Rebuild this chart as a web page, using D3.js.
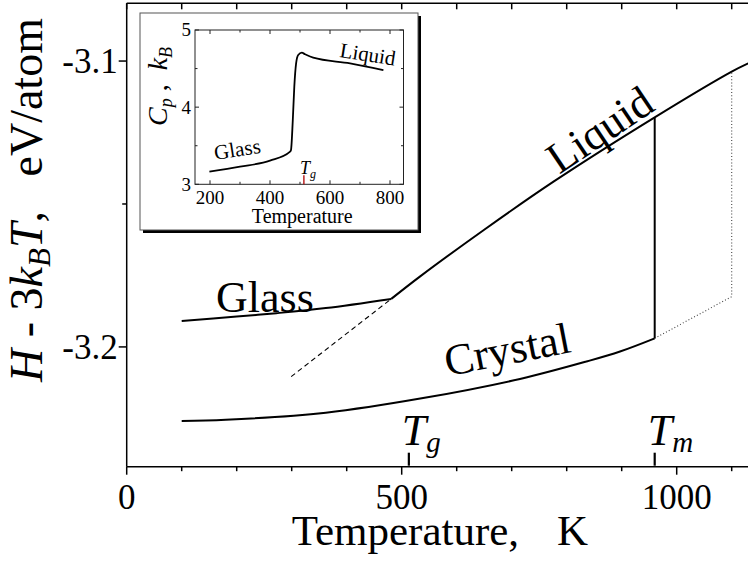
<!DOCTYPE html>
<html>
<head>
<meta charset="utf-8">
<script src="https://cdn.jsdelivr.net/npm/d3@7"></script>
<style>
  html, body { margin: 0; padding: 0; background: #fff; }
  svg { display: block; font-family: "Liberation Serif", "Times New Roman", serif; }
  text { white-space: pre; fill: #000; }
</style>
</head>
<body>
<svg id="chart" width="748" height="561"></svg>
<script>
// ---- main panel: enthalpy (H - 3kBT, eV/atom) versus temperature (K) ----
const glassT  = [100, 200, 272, 362, 481];
const glassH  = [-3.1909, -3.1894, -3.1882, -3.1864, -3.1832];

const liquidT = [481, 533, 650, 776, 960, 1100, 1130];
const liquidH = [-3.1832, -3.1754, -3.1590, -3.1422, -3.1197, -3.1037, -3.1008];

// straight extrapolation of the liquid branch below Tg
const supercooledT = [299, 481];
const supercooledH = [-3.2104, -3.1832];

const crystalT = [100, 180, 362, 539, 715, 836, 897, 960];
const crystalH = [-3.2259, -3.2255, -3.2230, -3.2179, -3.2112, -3.2051, -3.2016, -3.1970];

// superheated crystal, then its jump to the liquid at 1100 K
const superheatT = [960, 1100, 1100];
const superheatH = [-3.1970, -3.1824, -3.1037];

const Tg = 513;
const Tm = 960;

const xTicksMajor = [0, 500, 1000];
const xTicksMinor = [100, 200, 300, 400, 600, 700, 800, 900, 1100];
const yTicksMajor = [-3.2, -3.1];
const yTicksMinor = [-3.15];

// ---- inset: heat capacity Cp (kB) versus temperature ----
const cpT = [198, 300, 400, 467, 470, 476, 481, 487, 494, 506, 517, 544, 667, 778];
const cpV = [3.163, 3.228, 3.306, 3.423, 3.445, 3.833, 4.265, 4.568, 4.676, 4.706, 4.685, 4.641, 4.568, 4.481];
const insetXTicksMajor = [200, 400, 600, 800];
const insetXTicksMinor = [300, 500, 700];
const insetYTicksMajor = [3, 4, 5];
const insetYTicksMinor = [3.5, 4.5];

const svg = d3.select("#chart");

const x = d3.scaleLinear().domain([0, 1150]).range([126.7, 759.2]);
const y = d3.scaleLinear().domain([-3.2419, -3.0798]).range([466.7, 3.3]);
const xLeft = x(0), xRight = x(1150), yBottom = y(-3.2419), yTop = y(-3.0798);

const zip = (a, b) => a.map((v, i) => [v, b[i]]);
const line = d3.line().x(d => x(d[0])).y(d => y(d[1]));
const smooth = d3.line().x(d => x(d[0])).y(d => y(d[1])).curve(d3.curveCatmullRom.alpha(0.5));
// plain hyphen-minus for negative tick values
const fmtY = v => d3.format(".1f")(v).replace("\u2212", "-");

// frame
const axisStroke = "#000";
svg.append("line").attr("x1", xLeft).attr("x2", xLeft).attr("y1", yTop).attr("y2", yBottom)
  .attr("stroke", axisStroke).attr("stroke-width", 1.5);
svg.append("line").attr("x1", xLeft).attr("x2", xRight).attr("y1", yBottom).attr("y2", yBottom)
  .attr("stroke", axisStroke).attr("stroke-width", 1.5);
svg.append("line").attr("x1", xLeft).attr("x2", xRight).attr("y1", yTop).attr("y2", yTop)
  .attr("stroke", axisStroke).attr("stroke-width", 1.5);

// bottom axis ticks (outward) and labels
const xAll = xTicksMajor.concat(xTicksMinor);
svg.selectAll(".xt").data(xAll).enter().append("line")
  .attr("x1", d => x(d)).attr("x2", d => x(d))
  .attr("y1", yBottom).attr("y2", d => yBottom + (xTicksMajor.includes(d) ? 8 : 4.5))
  .attr("stroke", axisStroke).attr("stroke-width", 1.5);
// top axis ticks (inward)
svg.selectAll(".xtt").data(xAll).enter().append("line")
  .attr("x1", d => x(d)).attr("x2", d => x(d))
  .attr("y1", yTop).attr("y2", yTop + 6)
  .attr("stroke", axisStroke).attr("stroke-width", 1.5);
svg.selectAll(".xl").data(xTicksMajor).enter().append("text")
  .attr("x", d => x(d)).attr("y", 509)
  .attr("text-anchor", "middle").attr("font-size", 35)
  .text(d => d3.format("d")(d));

// left axis ticks (outward) and labels
svg.selectAll(".yt").data(yTicksMajor.concat(yTicksMinor)).enter().append("line")
  .attr("x1", xLeft).attr("x2", d => xLeft - (yTicksMajor.includes(d) ? 8 : 4.5))
  .attr("y1", d => y(d)).attr("y2", d => y(d))
  .attr("stroke", axisStroke).attr("stroke-width", 1.5);
svg.selectAll(".yl").data(yTicksMajor).enter().append("text")
  .attr("x", xLeft - 9).attr("y", d => y(d)).attr("dy", "0.34em")
  .attr("text-anchor", "end").attr("font-size", 35)
  .text(fmtY);

// axis titles
const xt = svg.append("text").attr("x", 291.7).attr("y", 545).attr("font-size", 43);
xt.append("tspan").text("Temperature,");
xt.append("tspan").attr("dx", 38).text("K");

const yt = svg.append("text").attr("transform", "translate(41.7,382) rotate(-90)").attr("font-size", 46);
yt.append("tspan").attr("font-style", "italic").text("H");
yt.append("tspan").text(" - 3");
yt.append("tspan").attr("font-style", "italic").text("k");
yt.append("tspan").attr("font-style", "italic").attr("font-size", 31).attr("dy", 8).text("B");
yt.append("tspan").attr("font-style", "italic").attr("dy", -8).text("T");
yt.append("tspan").text(",   eV/atom");

// curves
svg.append("path").attr("d", smooth(zip(glassT, glassH)))
  .attr("fill", "none").attr("stroke", "#000").attr("stroke-width", 2);
svg.append("path").attr("d", smooth(zip(liquidT, liquidH)))
  .attr("fill", "none").attr("stroke", "#000").attr("stroke-width", 2);
svg.append("path").attr("d", smooth(zip(crystalT, crystalH)))
  .attr("fill", "none").attr("stroke", "#000").attr("stroke-width", 2);
svg.append("path").attr("d", line(zip(supercooledT, supercooledH)))
  .attr("fill", "none").attr("stroke", "#000").attr("stroke-width", 1.1)
  .attr("stroke-dasharray", "5,3.5");
svg.append("path").attr("d", line(zip(superheatT, superheatH)))
  .attr("fill", "none").attr("stroke", "#444").attr("stroke-width", 1.1)
  .attr("stroke-dasharray", "1,2.2");
// melting jump at Tm
svg.append("line")
  .attr("x1", x(Tm)).attr("x2", x(Tm))
  .attr("y1", y(crystalH[crystalH.length - 1])).attr("y2", y(liquidH[4]))
  .attr("stroke", "#000").attr("stroke-width", 2);

// Tg / Tm markers on the temperature axis
[[Tg, "g"], [Tm, "m"]].forEach(([t, sub]) => {
  svg.append("line").attr("x1", x(t)).attr("x2", x(t))
    .attr("y1", yBottom - 14).attr("y2", yBottom - 1)
    .attr("stroke", "#000").attr("stroke-width", 2.2);
  const lab = svg.append("text").attr("x", x(t) - 7).attr("y", 445).attr("font-size", 44);
  lab.append("tspan").attr("font-style", "italic").text("T");
  lab.append("tspan").attr("font-style", "italic").attr("font-size", 29).attr("dy", 7).text(sub);
});

// curve labels
svg.append("text").attr("x", 216).attr("y", 311.7).attr("font-size", 44).text("Glass");
svg.append("text").attr("transform", "translate(608,142) rotate(-34)")
  .attr("text-anchor", "middle").attr("font-size", 44).text("Liquid");
svg.append("text").attr("transform", "translate(510,364) rotate(-11)")
  .attr("text-anchor", "middle").attr("font-size", 44).text("Crystal");

// ---- inset ----
const box = { x: 140, y: 13, w: 278, h: 217 };
svg.append("rect").attr("x", box.x + 3).attr("y", box.y + 3).attr("width", box.w).attr("height", box.h)
  .attr("fill", "#000");
svg.append("rect").attr("x", box.x).attr("y", box.y).attr("width", box.w).attr("height", box.h)
  .attr("fill", "#fff").attr("stroke", "#555").attr("stroke-width", 1);

const ix = d3.scaleLinear().domain([150, 845]).range([195, 403.5]);
const iy = d3.scaleLinear().domain([3, 5]).range([184.3, 30]);
const iL = ix(150), iR = ix(845), iT = iy(5), iB = iy(3);

svg.append("rect").attr("x", iL).attr("y", iT).attr("width", iR - iL).attr("height", iB - iT)
  .attr("fill", "none").attr("stroke", "#222").attr("stroke-width", 1);

const ixAll = insetXTicksMajor.concat(insetXTicksMinor);
ixAll.forEach(t => {
  const len = insetXTicksMajor.includes(t) ? 4 : 2.5;
  svg.append("line").attr("x1", ix(t)).attr("x2", ix(t)).attr("y1", iB).attr("y2", iB - len)
    .attr("stroke", "#222").attr("stroke-width", 1);
  svg.append("line").attr("x1", ix(t)).attr("x2", ix(t)).attr("y1", iT).attr("y2", iT + len)
    .attr("stroke", "#222").attr("stroke-width", 1);
});
insetYTicksMajor.concat(insetYTicksMinor).forEach(v => {
  const len = insetYTicksMajor.includes(v) ? 4 : 2.5;
  svg.append("line").attr("x1", iL).attr("x2", iL + len).attr("y1", iy(v)).attr("y2", iy(v))
    .attr("stroke", "#222").attr("stroke-width", 1);
  svg.append("line").attr("x1", iR).attr("x2", iR - len).attr("y1", iy(v)).attr("y2", iy(v))
    .attr("stroke", "#222").attr("stroke-width", 1);
});
svg.selectAll(".ixl").data(insetXTicksMajor).enter().append("text")
  .attr("x", d => ix(d)).attr("y", 204).attr("text-anchor", "middle").attr("font-size", 19)
  .text(d => d);
svg.selectAll(".iyl").data(insetYTicksMajor).enter().append("text")
  .attr("x", iL - 4).attr("y", d => iy(d)).attr("dy", "0.34em").attr("text-anchor", "end")
  .attr("font-size", 19).text(d => d);

svg.append("text").attr("x", (iL + iR) / 2 + 3).attr("y", 222.5).attr("text-anchor", "middle")
  .attr("font-size", 20).text("Temperature");

const iyt = svg.append("text").attr("transform", "translate(167,126) rotate(-90)").attr("font-size", 28);
iyt.append("tspan").attr("font-style", "italic").text("C");
iyt.append("tspan").attr("font-style", "italic").attr("font-size", 18).attr("dy", 5).text("p");
iyt.append("tspan").attr("dy", -5).text(" ,  ");
iyt.append("tspan").attr("font-style", "italic").text("k");
iyt.append("tspan").attr("font-style", "italic").attr("font-size", 18).attr("dy", 5).text("B");

const iline = d3.line().x(d => ix(d[0])).y(d => iy(d[1])).curve(d3.curveMonotoneX);
svg.append("path").attr("d", iline(zip(cpT, cpV)))
  .attr("fill", "none").attr("stroke", "#000").attr("stroke-width", 1.8);

// Tg marker in the inset
svg.append("line").attr("x1", ix(Tg)).attr("x2", ix(Tg)).attr("y1", iB).attr("y2", iB - 9)
  .attr("stroke", "#b00000").attr("stroke-width", 1.3);
const itg = svg.append("text").attr("x", ix(Tg) - 4).attr("y", 174).attr("font-size", 18);
itg.append("tspan").attr("font-style", "italic").text("T");
itg.append("tspan").attr("font-style", "italic").attr("font-size", 12).attr("dy", 4).text("g");

svg.append("text").attr("transform", "translate(238.4,156.3) rotate(-9)")
  .attr("text-anchor", "middle").attr("font-size", 21).text("Glass");
svg.append("text").attr("transform", "translate(366.7,61.3) rotate(9)")
  .attr("text-anchor", "middle").attr("font-size", 21).text("Liquid");
</script>
</body>
</html>
